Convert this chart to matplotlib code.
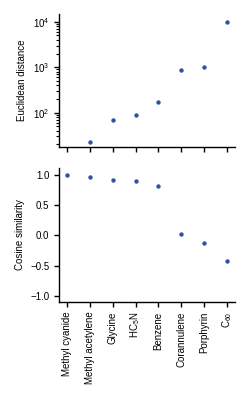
import numpy as np
import matplotlib
matplotlib.use('Agg')
import matplotlib.pyplot as plt

# ── data ──
molecules = ['Methyl cyanide', 'Methyl acetylene', 'Glycine', r'HC$_\mathregular{5}$N',
             'Benzene', 'Corannulene', 'Porphyrin', r'C$_\mathregular{60}$']
# reference molecule has distance 0 (not drawn on log axis)
euclid = [np.nan, 23, 69, 89, 170, 890, 1035, 10000]
cosine = [1.0, 0.97, 0.91, 0.905, 0.81, 0.03, -0.13, -0.43]

DOT = '#3050a6'

plt.rcParams['font.family'] = ['Liberation Sans', 'DejaVu Sans']
plt.rcParams['mathtext.fontset'] = 'custom'
plt.rcParams['mathtext.rm'] = 'Liberation Sans'
plt.rcParams['font.size'] = 7
for ax_ in ('x', 'y'):
    plt.rcParams[f'{ax_}tick.major.size'] = 3.5
    plt.rcParams[f'{ax_}tick.major.width'] = 1.0
    plt.rcParams[f'{ax_}tick.minor.size'] = 2.3
    plt.rcParams[f'{ax_}tick.minor.width'] = 0.8
    plt.rcParams[f'{ax_}tick.labelsize'] = 7
plt.rcParams['axes.linewidth'] = 1.0

fig = plt.figure(figsize=(2.5, 4.0), dpi=100)
ax1 = fig.add_axes([0.236, 0.6325, 0.704, 0.3325])
ax2 = fig.add_axes([0.236, 0.245, 0.704, 0.335])

x = np.arange(len(molecules))

ax1.scatter(x, euclid, s=10, color=DOT, zorder=3, linewidths=0)
ax1.set_yscale('log')
ax1.set_ylim(17.6, 14800)
ax1.set_ylabel('Euclidean distance')
ax1.set_xticks(x)
ax1.set_xticklabels([])

ax2.scatter(x, cosine, s=10, color=DOT, zorder=3, linewidths=0)
ax2.set_ylim(-1.1, 1.115)
ax2.set_yticks([-1.0, -0.5, 0.0, 0.5, 1.0])
ax2.set_ylabel('Cosine similarity')
ax2.set_xticks(x)
ax2.set_xticklabels(molecules, rotation=90)

for ax in (ax1, ax2):
    ax.set_xlim(-0.35, 7.35)
    ax.spines['top'].set_visible(False)
    ax.spines['right'].set_visible(False)

fig.savefig('out.png', dpi=100)
